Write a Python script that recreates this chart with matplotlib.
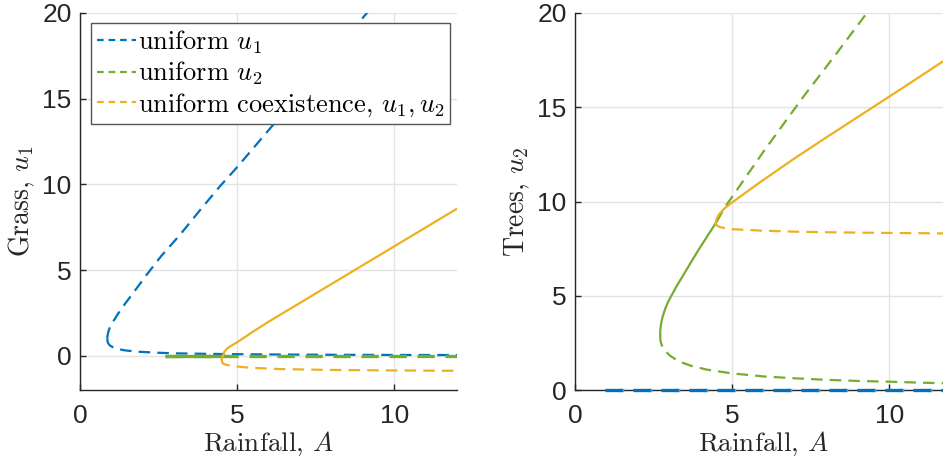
import matplotlib
matplotlib.use("Agg")
import matplotlib.pyplot as plt

# ---------------- data ----------------
# Left panel: Grass u1 versus rainfall A
A_u1_up = [0.87, 0.875, 0.89, 0.91, 0.95, 1.00, 1.09, 1.20, 1.38, 1.70, 2.12, 2.60, 3.18, 3.80, 4.46, 5.00, 6.16, 7.00, 8.00, 9.13, 9.40]
G_u1_up = [1.00, 1.15, 1.30, 1.45, 1.65, 1.85, 2.10, 2.42, 2.90, 3.68, 4.72, 5.85, 7.05, 8.45, 9.90, 11.0, 13.5, 15.3, 17.5, 20.0, 20.6]
A_u1_lo = [0.87, 0.875, 0.89, 0.925, 0.98, 1.09, 1.17, 1.40, 1.80, 2.40, 3.00, 4.00, 5.00, 6.00, 8.00, 10.0, 12.0]
G_u1_lo = [1.00, 0.86, 0.75, 0.65, 0.56, 0.46, 0.41, 0.32, 0.24, 0.18, 0.14, 0.11, 0.09, 0.075, 0.055, 0.045, 0.04]

A_u2_stab = [2.71, 4.51]
G_u2_stab = [0.0, 0.0]
A_u2_unst = [2.71, 12.0]
G_u2_unst = [0.0, 0.0]

A_co_st = [4.51, 4.53, 4.56, 4.60, 4.70, 4.85, 5.00, 5.50, 6.00, 6.50, 7.00, 8.00, 9.00, 10.0, 11.0, 12.0]
G_co_st = [-0.20, -0.08, 0.05, 0.25, 0.45, 0.62, 0.78, 1.40, 1.98, 2.53, 3.08, 4.18, 5.28, 6.38, 7.48, 8.58]
A_co_un = [4.51, 4.52, 4.55, 4.65, 4.85, 5.40, 6.40, 8.00, 10.0, 12.0]
G_co_un = [-0.20, -0.35, -0.45, -0.53, -0.60, -0.70, -0.78, -0.83, -0.86, -0.88]

# Right panel: Trees u2 versus rainfall A
A_t_u1 = [0.96, 12.0]
T_t_u1 = [0.0, 0.0]

A_t_st = [2.71, 2.715, 2.73, 2.76, 2.80, 2.88, 2.97, 3.08, 3.25, 3.45, 3.70, 3.93, 4.20, 4.51]
T_t_st = [2.90, 3.15, 3.40, 3.68, 3.95, 4.35, 4.70, 5.04, 5.55, 6.10, 6.80, 7.43, 8.13, 8.93]
A_t_up = [4.51, 4.78, 5.04, 6.00, 7.27, 8.30, 9.29, 9.50]
T_t_up = [8.93, 9.72, 10.34, 12.65, 15.56, 17.80, 20.0, 20.45]
A_t_lo = [2.71, 2.72, 2.76, 2.82, 3.00, 3.30, 3.70, 4.20, 5.00, 6.00, 7.00, 8.00, 9.00, 10.0, 11.0, 12.0]
T_t_lo = [2.90, 2.62, 2.38, 2.18, 1.85, 1.52, 1.28, 1.08, 0.88, 0.72, 0.62, 0.54, 0.48, 0.44, 0.39, 0.35]

A_tc_st = [4.48, 4.51, 4.60, 4.75, 5.00, 5.50, 6.00, 7.00, 8.00, 9.00, 10.0, 11.0, 12.0]
T_tc_st = [8.88, 9.10, 9.35, 9.62, 9.95, 10.55, 11.15, 12.30, 13.40, 14.48, 15.56, 16.65, 17.75]
A_tc_un = [4.48, 4.50, 4.60, 4.80, 5.00, 6.00, 7.00, 8.00, 9.00, 10.0, 11.0, 12.0]
T_tc_un = [8.88, 8.75, 8.65, 8.57, 8.53, 8.45, 8.40, 8.37, 8.35, 8.33, 8.32, 8.30]

x_ticks = [0, 5, 10]
y_ticks = [0, 5, 10, 15, 20]
legend_labels = [r"uniform $u_1$", r"uniform $u_2$", r"uniform coexistence, $u_1, u_2$"]

# ---------------- style ----------------
BLUE = "#0072BD"
GREEN = "#77AC30"
ORANGE = "#EDB120"
DARK = "#262626"
LW = 1.6
DASH = (0, (5.2, 3.2))

plt.rcParams["mathtext.fontset"] = "cm"
plt.rcParams["axes.unicode_minus"] = False
TICKFONT = ["Liberation Sans", "DejaVu Sans"]
LABFONT = ["cmr10", "DejaVu Serif"]

fig = plt.figure(figsize=(9.43, 4.63), dpi=100)
W, H = 943.0, 463.0
axL = fig.add_axes([80 / W, (H - 390) / H, 377 / W, 377 / H])
axR = fig.add_axes([575 / W, (H - 390) / H, 377 / W, 377 / H])


def style(ax, ylim, ylabel):
    ax.set_xlim(0, 12)
    ax.set_ylim(*ylim)
    ax.set_xticks(x_ticks)
    ax.set_yticks(y_ticks)
    ax.grid(True, color="#e3e3e3", linewidth=1.0)
    ax.set_axisbelow(True)
    for s in ["top", "right"]:
        ax.spines[s].set_visible(False)
    for s in ["left", "bottom"]:
        ax.spines[s].set_color(DARK)
        ax.spines[s].set_linewidth(1.0)
    ax.tick_params(direction="in", length=4, width=1.0, colors=DARK, labelsize=19)
    ax.tick_params(axis="x", pad=10)
    ax.tick_params(axis="y", pad=6)
    for lab in ax.get_xticklabels() + ax.get_yticklabels():
        lab.set_family(TICKFONT)
    ax.set_xlabel(r"Rainfall, $A$", fontsize=19.5, family=LABFONT, color=DARK, labelpad=1)
    ax.set_ylabel(ylabel, fontsize=20, family=LABFONT, color=DARK, labelpad=4)


# Left panel
l1, = axL.plot(A_u1_up, G_u1_up, color=BLUE, lw=LW, linestyle=DASH, label=legend_labels[0])
axL.plot(A_u1_lo, G_u1_lo, color=BLUE, lw=LW, linestyle=DASH)
axL.plot(A_u2_stab, G_u2_stab, color=GREEN, lw=2.4, solid_capstyle="butt")
l2, = axL.plot(A_u2_unst, G_u2_unst, color=GREEN, lw=2.4, linestyle=DASH, label=legend_labels[1])
axL.plot(A_co_st, G_co_st, color=ORANGE, lw=LW)
l3, = axL.plot(A_co_un, G_co_un, color=ORANGE, lw=LW, linestyle=DASH, label=legend_labels[2])
style(axL, (-2, 20), r"Grass, $u_1$")

leg = axL.legend(handles=[l1, l2, l3], loc="upper left", bbox_to_anchor=(0.03, 0.973),
                 prop={"family": LABFONT, "size": 19}, frameon=True, fancybox=False,
                 borderpad=0.2, labelspacing=0.15, handlelength=1.5, handletextpad=0.08,
                 borderaxespad=0.0)
leg.get_frame().set_edgecolor("#555555")
leg.get_frame().set_linewidth(1.0)
leg.get_frame().set_alpha(1.0)
for h in leg.get_lines():
    h.set_linewidth(LW)
    h.set_linestyle((0, (3.0, 2.2)))

# Right panel
axR.plot(A_t_u1, T_t_u1, color="#5fa5dc", lw=2.4, linestyle=(4.3, (1.6, 6.8)), clip_on=False, zorder=3)
axR.plot(A_t_u1, T_t_u1, color=BLUE, lw=2.4, linestyle=DASH, clip_on=False, zorder=3)
axR.plot(A_t_st, T_t_st, color=GREEN, lw=LW)
axR.plot(A_t_up, T_t_up, color=GREEN, lw=LW, linestyle=DASH)
axR.plot(A_t_lo, T_t_lo, color=GREEN, lw=LW, linestyle=DASH)
axR.plot(A_tc_st, T_tc_st, color=ORANGE, lw=LW)
axR.plot(A_tc_un, T_tc_un, color=ORANGE, lw=LW, linestyle=DASH)
style(axR, (0, 20), r"Trees, $u_2$")

fig.savefig("out.png", dpi=100)
